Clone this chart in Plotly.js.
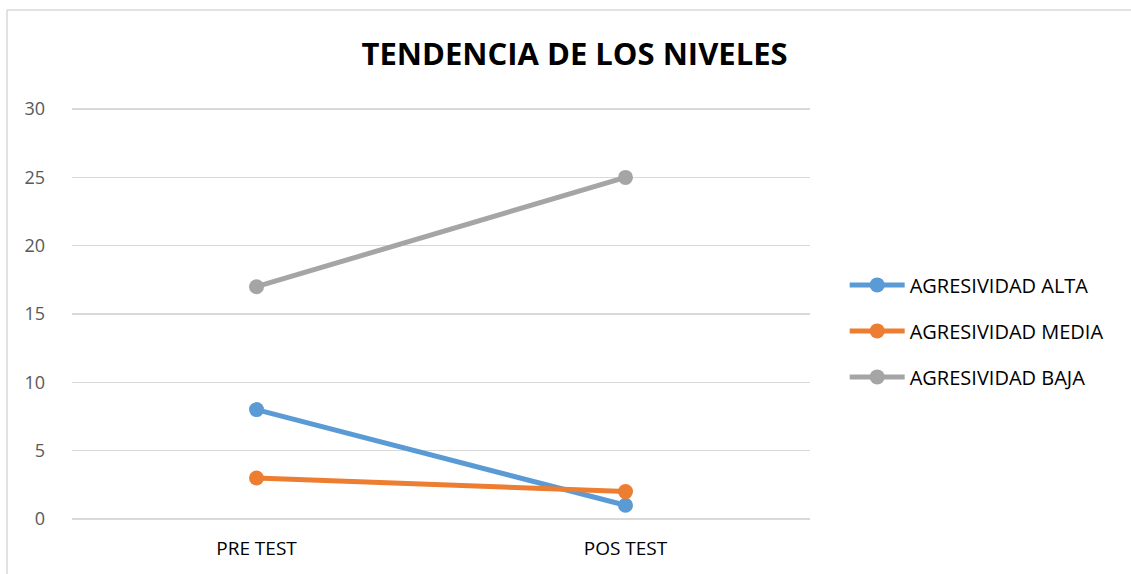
<!DOCTYPE html>
<html><head><meta charset="utf-8">
<script src="https://cdn.plot.ly/plotly-3.0.1.min.js"></script>
<style>html,body{margin:0;padding:0;background:#fff}#chart{width:1131px;height:574px}</style>
</head><body><div id="chart"></div>
<script>
const categories = ["PRE TEST", "POS TEST"];
const seriesNames = ["AGRESIVIDAD ALTA", "AGRESIVIDAD MEDIA", "AGRESIVIDAD BAJA"];
const alta = [8, 1];
const media = [3, 2];
const baja = [17, 25];
const colors = ["#5B9BD5", "#ED7D31", "#A5A5A5"];
const yTicks = [0, 5, 10, 15, 20, 25, 30];

const data = [alta, media, baja].map((vals, i) => ({
  x: categories, y: vals, type: "scatter", mode: "lines+markers", name: seriesNames[i],
  legendgroup: "g" + i,
  line: {color: colors[i], width: 5}, marker: {color: colors[i], size: 15}
}));

const layout = {
  width: 1131, height: 574,
  margin: {l: 72, r: 321, t: 108, b: 54},
  paper_bgcolor: "#fff", plot_bgcolor: "#fff",
  font: {family: "Open Sans, Liberation Sans, sans-serif", color: "#595959"},
  title: {text: "<b>TENDENCIA DE LOS NIVELES</b>", x: 0.508, xanchor: "center", y: 0.905, yanchor: "middle",
          font: {size: 31, color: "#000", family: "Open Sans, sans-serif"}},
  xaxis: {type: "category", range: [-0.5, 1.5], showgrid: false, zeroline: false, showline: false,
          ticks: "", tickfont: {size: 19, color: "#000"}, ticklabelstandoff: 15, fixedrange: true},
  yaxis: {range: [-0.08, 30.08], tickvals: yTicks, showgrid: true, gridcolor: "#D9D9D9", gridwidth: 1.5,
          zeroline: false, showline: false, ticks: "", ticklen: 0, tickfont: {size: 18, color: "#595959"},
          ticklabelstandoff: 26},
  showlegend: true,
  legend: {x: 1.047, xanchor: "left", y: 0.459, yanchor: "middle", font: {size: 20, color: "#000"},
           traceorder: "grouped", tracegroupgap: 17, itemwidth: 55, bgcolor: "rgba(0,0,0,0)"},
  shapes: [
    {type: "line", xref: "paper", yref: "paper", x0: -65/738, x1: 1059/738, y0: 1 + 98/412, y1: 1 + 98/412,
     line: {color: "#D9D9D9", width: 1.5}},
    {type: "line", xref: "paper", yref: "paper", x0: -65/738, x1: -65/738, y0: 1 + 98/412, y1: -54/412,
     line: {color: "#D9D9D9", width: 1.5}}
  ]
};
Plotly.newPlot("chart", data, layout, {displayModeBar: false, staticPlot: true});
</script></body></html>
